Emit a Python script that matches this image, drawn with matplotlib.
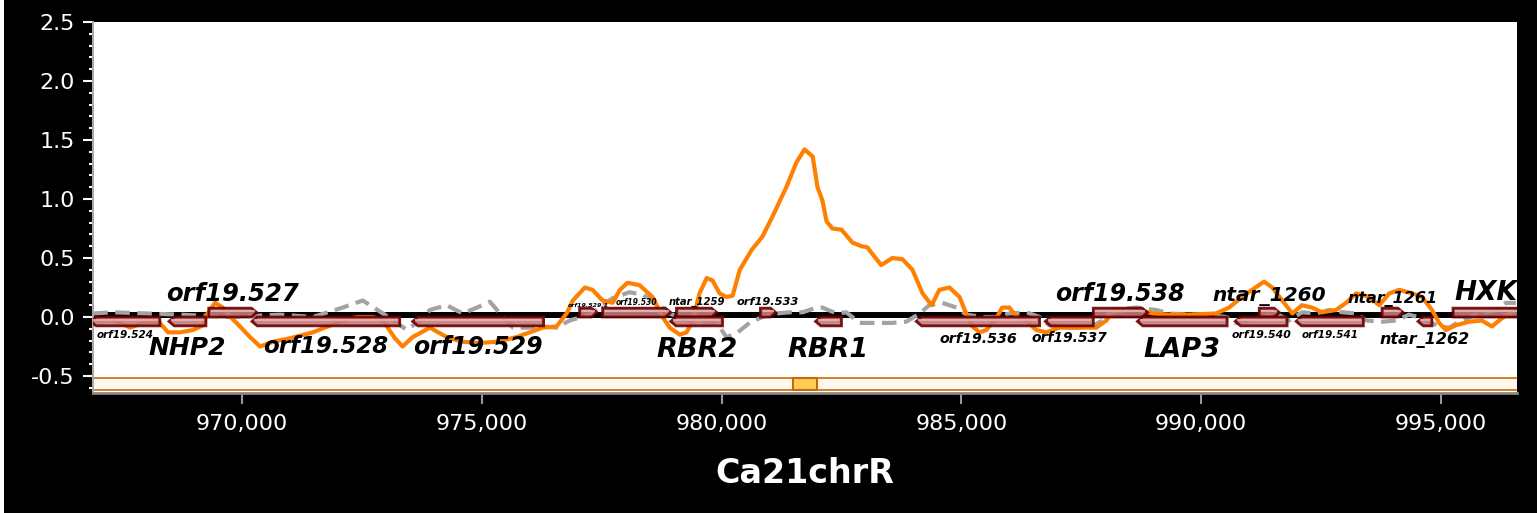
import matplotlib.pyplot as plt
import numpy as np
from matplotlib.patches import Polygon, Rectangle
from matplotlib.ticker import FixedLocator, MultipleLocator, FuncFormatter, FormatStrFormatter

plt.rcParams['axes.unicode_minus'] = False

# signal tracks, positions in kb on Ca21chrR
orange_pos = [966.90, 967.31, 967.67, 968.02, 968.29, 968.46, 968.71, 968.98, 969.19, 969.27,
              969.44, 969.60, 969.79, 969.96, 970.17, 970.38, 970.65, 971.00, 971.48, 972.04,
              972.40, 972.73, 972.94, 973.19, 973.35, 973.56, 973.92, 974.27, 974.60, 974.96,
              975.31, 975.73, 976.00, 976.27, 976.56, 976.77, 976.90, 977.15, 977.31, 977.52,
              977.73, 977.88, 978.04, 978.29, 978.56, 978.77, 978.92, 979.13, 979.27, 979.40,
              979.54, 979.69, 979.81, 979.96, 980.10, 980.23, 980.38, 980.63, 980.85, 981.06,
              981.35, 981.56, 981.73, 981.90, 982.00, 982.10, 982.19, 982.31, 982.50, 982.73,
              982.92, 983.04, 983.19, 983.33, 983.56, 983.77, 983.98, 984.19, 984.38, 984.54,
              984.75, 984.96, 985.10, 985.23, 985.38, 985.52, 985.73, 985.85, 986.00, 986.15,
              986.35, 986.56, 986.77, 987.04, 987.46, 987.81, 988.02, 988.15, 988.44, 988.71,
              988.98, 989.33, 989.75, 990.31, 990.58, 990.85, 991.06, 991.31, 991.48, 991.69,
              991.90, 992.10, 992.31, 992.52, 992.81, 993.02, 993.23, 993.50, 993.71, 993.92,
              994.13, 994.40, 994.60, 994.81, 994.96, 995.10, 995.31, 995.58, 995.85, 996.06,
              996.27, 996.48, 996.56]
orange_val = [-0.02, -0.02, -0.09, -0.04, -0.05, -0.13, -0.13, -0.11, -0.07, 0.02,
              0.12, 0.08, -0.01, -0.08, -0.17, -0.25, -0.21, -0.18, -0.13, -0.04,
              0.00, 0.00, -0.03, -0.18, -0.25, -0.17, -0.09, -0.17, -0.21, -0.22,
              -0.21, -0.17, -0.13, -0.09, -0.08, 0.03, 0.14, 0.25, 0.23, 0.14,
              0.12, 0.23, 0.29, 0.27, 0.17, 0.00, -0.09, -0.15, -0.13, -0.03,
              0.20, 0.33, 0.31, 0.20, 0.17, 0.18, 0.40, 0.57, 0.68, 0.85,
              1.10, 1.31, 1.42, 1.36, 1.10, 0.99, 0.81, 0.75, 0.74, 0.63,
              0.60, 0.59, 0.51, 0.44, 0.50, 0.49, 0.40, 0.20, 0.10, 0.23,
              0.25, 0.17, 0.03, -0.08, -0.13, -0.11, -0.01, 0.08, 0.08, 0.00,
              -0.03, -0.11, -0.13, -0.09, -0.09, -0.09, -0.03, 0.04, 0.06, 0.06,
              0.03, 0.02, 0.02, 0.03, 0.08, 0.17, 0.23, 0.30, 0.25, 0.14,
              0.03, 0.10, 0.08, 0.04, 0.06, 0.12, 0.20, 0.17, 0.10, 0.20,
              0.23, 0.20, 0.17, 0.06, -0.05, -0.11, -0.07, -0.04, -0.03, -0.08,
              -0.01, 0.04, 0.06]

grey_pos = [966.90, 967.31, 968.02, 968.71, 969.75, 970.79, 971.48, 972.10, 972.52, 972.94,
            973.23, 973.44, 973.71, 973.92, 974.27, 974.60, 974.90, 975.17, 975.38, 975.65,
            976.00, 976.27, 976.56, 976.83, 977.25, 977.73, 978.08, 978.35, 978.65, 978.92,
            979.27, 979.90, 980.10, 980.31, 980.58, 980.85, 981.15, 981.42, 981.69, 981.98,
            982.10, 982.40, 982.60, 982.88, 983.15, 983.56, 983.85, 984.13, 984.33, 984.60,
            984.90, 985.10, 985.44, 985.73, 986.00, 986.35, 986.63, 986.83, 987.25, 987.67,
            987.94, 988.15, 988.65, 989.06, 989.33, 989.75, 990.10, 990.52, 990.73, 991.00,
            991.56, 991.83, 992.10, 992.40, 992.67, 992.94, 993.23, 993.44, 993.77, 994.06,
            994.33, 994.60, 994.96, 995.17, 995.38, 995.73, 996.15, 996.35, 996.56]
grey_val = [0.03, 0.04, 0.03, 0.02, 0.00, 0.02, 0.00, 0.08, 0.14, 0.03,
            -0.05, -0.11, -0.03, 0.06, 0.10, 0.03, 0.08, 0.13, 0.03, -0.09,
            -0.09, -0.08, -0.09, -0.03, 0.02, 0.16, 0.21, 0.19, 0.12, 0.03,
            -0.03, -0.05, -0.17, -0.14, -0.05, 0.00, 0.03, 0.04, 0.04, 0.08,
            0.08, 0.03, 0.04, -0.05, -0.05, -0.05, -0.04, 0.03, 0.10, 0.12,
            0.08, 0.02, 0.00, 0.00, 0.03, 0.04, 0.00, -0.07, -0.09, -0.09,
            -0.03, 0.06, 0.08, 0.06, 0.03, 0.02, 0.02, 0.00, -0.05, -0.03,
            0.03, -0.03, 0.04, 0.03, 0.06, 0.04, 0.03, -0.03, -0.04, -0.03,
            0.02, -0.01, -0.08, -0.09, -0.04, 0.02, 0.06, 0.12, 0.12]

# gene models (kb), strand +1 forward / -1 reverse
gene_names = ["orf19.524", "NHP2", "orf19.527", "orf19.528", "orf19.529", "orf19.529.1",
              "orf19.530", "ntar_1259", "RBR2", "orf19.533", "RBR1", "orf19.536",
              "orf19.537", "orf19.538", "LAP3", "ntar_1260", "orf19.540", "orf19.541",
              "ntar_1261", "ntar_1262", "HXK2"]
gene_start = [966.85, 968.48, 969.31, 970.21, 973.56, 977.04, 977.52, 979.06, 978.94, 980.81,
              981.96, 984.06, 986.75, 987.75, 988.67, 991.21, 990.71, 991.98, 993.77, 994.52,
              995.25]
gene_end = [968.29, 969.25, 970.31, 973.29, 976.29, 977.40, 978.94, 979.90, 980.02, 981.13,
            982.50, 986.63, 987.75, 988.88, 990.54, 991.63, 991.79, 993.38, 994.21, 994.81,
            997.00]
gene_strand = [-1, -1, 1, -1, -1, 1, 1, 1, -1, 1, -1, -1, -1, 1, -1, 1, -1, -1, 1, -1, 1]

# selected region on the bottom strip
sel_start, sel_end = 981.48, 982.00

# label font sizes (style)
label_fs = [7.5, 18, 17.5, 16.5, 17, 4.5, 5.5, 7.2, 19.5, 8.2, 19.5, 10.3, 10, 17, 19.5,
            14.5, 7.8, 7.5, 11.5, 11.5, 19]

fig = plt.figure(figsize=(15.37, 5.13), dpi=100, facecolor='black')
fig.patches.append(Rectangle((0, 0), 4 / 1537, 1, transform=fig.transFigure,
                             facecolor='white', edgecolor='none'))
ax = fig.add_axes([93 / 1537, 1 - 393 / 513, (1517 - 93) / 1537, (393 - 22) / 513])
ax.set_facecolor('white')
xmin, xmax = 966896, 996583
ax.set_xlim(xmin, xmax)
ax.set_ylim(-0.644, 2.5)

ox = np.array(orange_pos) * 1000
gx = np.array(grey_pos) * 1000

ax.axhline(0.013, color='black', lw=4.3, zorder=2)
ax.plot(gx, grey_val, color='#a3a3a3', lw=3, dashes=(3.5, 1.8), zorder=3)
ax.plot(ox, orange_val, color='#ff8000', lw=3, zorder=4)

h = 0.075
for name, s, e, st, fs in zip(gene_names, gene_start, gene_end, gene_strand, label_fs):
    s, e = s * 1000, e * 1000
    tip = min(110, (e - s) * 0.4)
    if st > 0:
        y0, y1 = 0.0, h
        pts = [(s, y0), (e - tip, y0), (e, (y0 + y1) / 2), (e - tip, y1), (s, y1)]
    else:
        y0, y1 = -h, 0.0
        pts = [(s + tip, y0), (e, y0), (e, y1), (s + tip, y1), (s, (y0 + y1) / 2)]
    ax.add_patch(Polygon(pts, closed=True, facecolor='#c47a7a', edgecolor='#6b0000',
                         lw=2, alpha=0.9, zorder=5))
    ax.plot([s + tip * 0.6, e - tip * 0.6], [y1 - h * 0.3] * 2, color='#e6b8b8',
            lw=1.5, alpha=0.8, zorder=5)
    cx = (s + e) / 2
    if st > 0:
        t = ax.annotate(name, xy=(cx, h), xytext=(0, 0.1 * fs), textcoords='offset points',
                        ha='center', va='bottom', fontsize=fs, fontweight='bold',
                        fontstyle='italic', color='black', zorder=6)
    else:
        t = ax.annotate(name, xy=(cx, -h), xytext=(0, -0.4 * fs), textcoords='offset points',
                        ha='center', va='top', fontsize=fs, fontweight='bold',
                        fontstyle='italic', color='black', zorder=6)
    t.set_clip_on(True)

# bottom strip with selection
ax.add_patch(Rectangle((xmin, -0.619), xmax - xmin, 0.102, facecolor='#fff8f0',
                       edgecolor='none', zorder=1))
ax.axhline(-0.517, color='#cc6a00', lw=1.2, zorder=2)
ax.axhline(-0.619, color='#cc6a00', lw=1.2, zorder=2)
ax.add_patch(Rectangle((sel_start * 1000, -0.619), (sel_end - sel_start) * 1000, 0.102,
                       facecolor='#ffcc55', edgecolor='#cc6600', lw=1.5, zorder=3))

for sp in ['top', 'right']:
    ax.spines[sp].set_visible(False)
ax.spines['left'].set_color('#aaaaaa')
ax.spines['left'].set_linewidth(1.5)
ax.spines['bottom'].set_color('#888888')
ax.spines['bottom'].set_linewidth(2)

ax.yaxis.set_major_locator(FixedLocator([-0.5, 0, 0.5, 1.0, 1.5, 2.0, 2.5]))
ax.yaxis.set_minor_locator(MultipleLocator(0.1))
ax.yaxis.set_major_formatter(FormatStrFormatter('%.1f'))
ax.tick_params(axis='y', which='major', colors='white', labelsize=16, length=7, width=1.5, pad=6)
ax.tick_params(axis='y', which='minor', colors='white', length=3, width=1.5)

ax.set_xticks(np.arange(970000, 995001, 5000))
ax.xaxis.set_major_formatter(FuncFormatter(lambda v, p: f"{int(v):,}"))
ax.tick_params(axis='x', color='#999999', labelcolor='white', labelsize=16, length=8,
               width=1.5, pad=7)
ax.set_xlabel('Ca21chrR', color='white', fontsize=24, fontweight='bold', labelpad=17)

plt.savefig('out.png', dpi=100, facecolor='black')
